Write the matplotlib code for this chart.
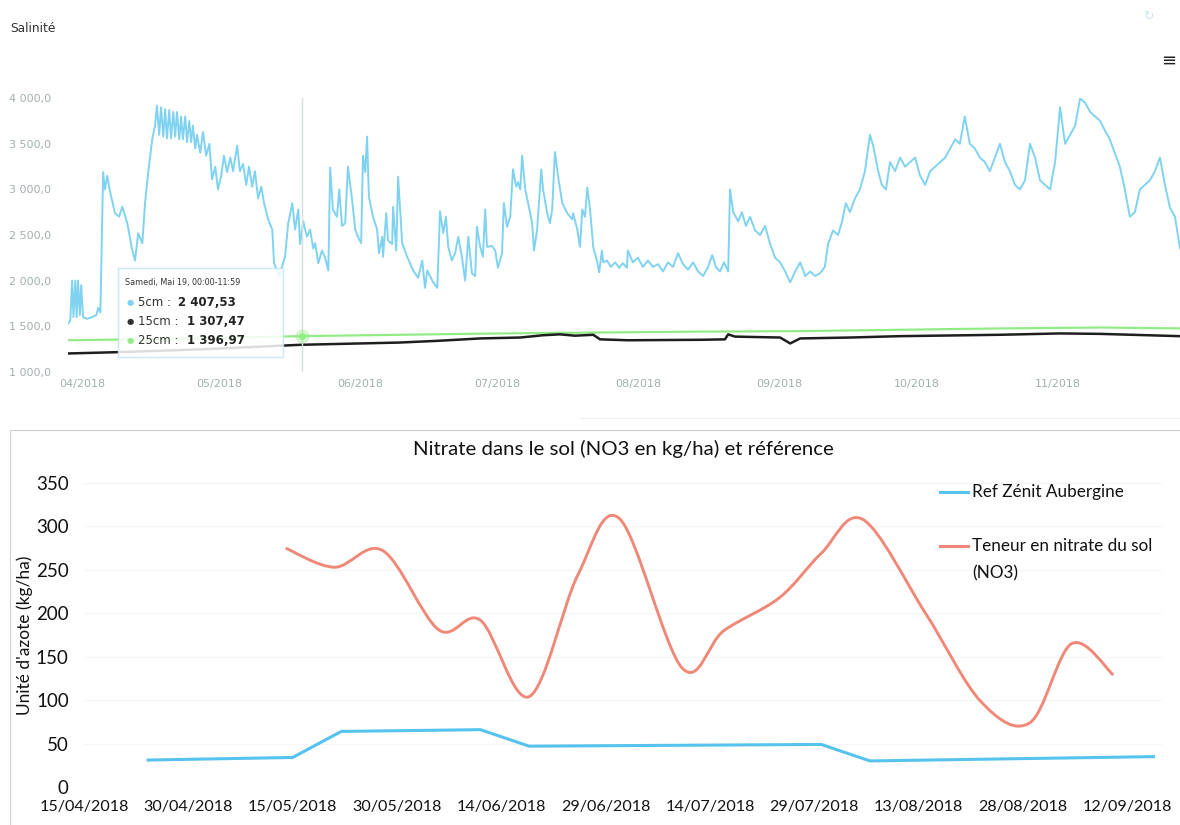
import matplotlib
matplotlib.use("Agg")
import matplotlib.pyplot as plt
import matplotlib.dates as mdates
from matplotlib.path import Path
from matplotlib.patches import PathPatch, FancyBboxPatch
from datetime import datetime, timedelta

# ---------------- Salinité (graphique du haut) ----------------
debut = datetime(2018, 4, 1)

jours_5cm = [-3.1, -2.6, -2.2, -1.9, -1.5, -1.2, -0.9, -0.5, -0.2, 0.2, 1.1, 2.2, 3.1, 3.5, 4.0, 4.6, 5.0, 5.5, 6.1, 7.2,
             8.1, 8.8, 9.9, 11.0, 11.6, 12.3, 13.2, 13.8, 14.5, 15.4, 16.0, 16.4, 16.9, 17.3, 17.8, 18.2, 18.6, 19.1, 19.5, 20.0,
             20.4, 20.8, 21.3, 21.7, 22.1, 22.6, 23.0, 23.5, 23.9, 24.3, 24.8, 25.2, 25.9, 26.5, 27.2, 27.9, 28.5, 29.2, 29.8, 30.5,
             31.1, 31.8, 32.5, 33.1, 34.0, 34.6, 35.3, 36.0, 36.6, 37.3, 37.9, 38.6, 39.3, 39.9, 40.8, 41.7, 42.1, 43.2, 44.5, 45.2,
             46.1, 46.7, 47.4, 47.8, 48.5, 49.3, 50.0, 50.7, 51.1, 51.8, 52.6, 53.3, 54.0, 54.4, 55.0, 55.9, 56.4, 57.0, 57.7, 58.3,
             59.2, 59.9, 60.5, 61.2, 61.6, 62.1, 62.5, 62.9, 63.8, 64.7, 65.1, 65.8, 66.0, 66.7, 67.1, 68.0, 68.2, 68.9, 69.3, 70.2,
             71.3, 71.9, 72.6, 73.7, 74.6, 75.2, 75.7, 76.3, 77.0, 77.9, 78.5, 79.2, 79.8, 80.3, 81.1, 81.8, 82.5, 83.3, 84.0, 84.7,
             85.5, 86.2, 86.6, 87.3, 87.9, 88.4, 88.8, 89.9, 90.6, 91.2, 92.1, 92.5, 93.2, 93.9, 94.5, 95.2, 95.6, 96.1, 96.5, 97.2,
             97.8, 98.7, 99.1, 99.8, 100.7, 101.1, 102.0, 102.6, 103.1, 103.7, 104.4, 105.3, 106.4, 107.5, 107.7, 108.6, 109.2, 109.7, 110.3, 110.8,
             111.4, 112.1, 112.9, 113.4, 114.0, 114.3, 115.1, 116.0, 116.9, 117.8, 118.6, 119.5, 119.7, 120.8, 121.9, 123.0, 124.1, 125.2, 126.3, 127.4,
             128.5, 129.6, 130.7, 131.8, 132.9, 134.0, 135.1, 136.2, 137.3, 138.2, 139.0, 139.9, 140.8, 141.7, 142.1, 142.8, 143.9, 144.7, 145.6, 146.5,
             147.6, 148.7, 149.8, 150.9, 152.0, 153.1, 154.2, 155.3, 156.4, 157.5, 158.6, 159.7, 160.8, 161.8, 162.9, 163.6, 164.7, 165.8, 166.7, 167.5,
             168.4, 169.5, 170.6, 171.7, 172.8, 173.5, 174.6, 175.4, 176.3, 177.2, 178.3, 179.4, 180.5, 181.6, 182.7, 183.8, 184.9, 186.0, 187.1, 188.2,
             189.3, 190.4, 191.5, 192.5, 193.6, 194.7, 195.8, 196.9, 198.0, 199.1, 200.2, 201.3, 202.4, 203.5, 204.6, 205.7, 206.8, 207.9, 209.0, 210.1,
             211.2, 212.3, 213.4, 214.5, 215.6, 216.7, 217.8, 218.9, 220.0, 221.1, 222.2, 223.3, 224.3, 225.4, 226.5, 227.6, 228.7, 229.8, 230.9, 232.0,
             233.1, 234.2, 235.3, 236.4, 237.5, 238.6, 239.7, 240.8]
sal_5cm = [1530, 1560, 2000, 1600, 2000, 1600, 2000, 1620, 1950, 1600, 1580, 1600, 1620, 1700, 1650, 3190, 3000, 3150, 2980, 2740,
           2700, 2810, 2630, 2330, 2220, 2520, 2410, 2850, 3190, 3560, 3700, 3920, 3600, 3900, 3580, 3880, 3560, 3870, 3560, 3850,
           3580, 3850, 3550, 3800, 3550, 3800, 3520, 3750, 3520, 3700, 3450, 3600, 3400, 3630, 3370, 3500, 3110, 3250, 3000, 3150,
           3370, 3190, 3350, 3200, 3480, 3200, 3280, 3050, 3250, 3030, 3200, 2900, 3030, 2850, 2670, 2560, 2190, 2050, 2260, 2630,
           2850, 2560, 2780, 2400, 2650, 2480, 2560, 2350, 2410, 2190, 2330, 2250, 2110, 3240, 2780, 2700, 3000, 2600, 2630, 3250,
           2890, 2560, 2480, 2410, 3370, 3190, 3580, 2920, 2700, 2560, 2300, 2480, 2260, 2740, 2440, 2400, 2810, 2330, 3140, 2410,
           2260, 2190, 2110, 2030, 2220, 1920, 2110, 2050, 1980, 1920, 2760, 2520, 2700, 2370, 2220, 2300, 2480, 2260, 2000, 2480,
           2080, 2050, 2590, 2370, 2260, 2780, 2370, 2380, 2330, 2140, 2300, 2850, 2590, 2700, 3220, 3030, 3080, 3000, 3370, 3000,
           2850, 2630, 2330, 2560, 3220, 3000, 2740, 2630, 2780, 3410, 3140, 2850, 2740, 2670, 2740, 2560, 2370, 2780, 2700, 3020,
           2780, 2370, 2220, 2090, 2330, 2200, 2220, 2150, 2200, 2140, 2190, 2140, 2330, 2200, 2250, 2150, 2220, 2150, 2180, 2100,
           2200, 2150, 2300, 2180, 2120, 2200, 2100, 2050, 2150, 2280, 2150, 2100, 2200, 2100, 3000, 2750, 2650, 2750, 2600, 2700,
           2550, 2500, 2600, 2400, 2250, 2200, 2100, 1980, 2100, 2200, 2050, 2100, 2050, 2080, 2150, 2400, 2550, 2500, 2650, 2850,
           2750, 2900, 3000, 3200, 3600, 3480, 3200, 3050, 3000, 3300, 3200, 3350, 3250, 3300, 3350, 3150, 3050, 3200, 3250, 3300,
           3350, 3450, 3550, 3500, 3800, 3500, 3450, 3350, 3300, 3200, 3350, 3500, 3300, 3200, 3050, 3000, 3100, 3500, 3350, 3100,
           3050, 3000, 3300, 3900, 3500, 3600, 3700, 4000, 3950, 3850, 3800, 3750, 3650, 3550, 3400, 3250, 3000, 2700, 2750, 3000,
           3050, 3100, 3200, 3350, 3050, 2800, 2700, 2350]

jours_15cm = [-3.1, 8.3, 25.9, 47.8, 69.7, 78.5, 87.3, 96.1, 101.1, 104.8, 108.1, 112.1, 113.6, 119.7, 135.5, 141.0, 141.7, 143.2,
              153.1, 155.3, 157.5, 168.4, 179.4, 201.3, 214.5, 223.3, 240.8]
sal_15cm = [1200, 1215, 1245, 1295, 1320, 1340, 1365, 1375, 1400, 1410, 1395, 1405, 1355, 1345, 1350, 1355, 1410, 1385,
            1375, 1310, 1365, 1375, 1390, 1405, 1420, 1415, 1390]

jours_25cm = [-3.1, 25.9, 47.8, 69.7, 91.7, 113.6, 135.5, 157.5, 179.4, 201.3, 223.3, 240.8]
sal_25cm = [1345, 1365, 1390, 1405, 1420, 1430, 1440, 1445, 1460, 1475, 1485, 1475]

mois = [datetime(2018, m, 1) for m in range(4, 12)]
mois_labels = ['04/2018', '05/2018', '06/2018', '07/2018', '08/2018', '09/2018', '10/2018', '11/2018']
sal_ticks = [1000, 1500, 2000, 2500, 3000, 3500, 4000]
sal_tick_labels = ['1 000,0', '1 500,0', '2 000,0', '2 500,0', '3 000,0', '3 500,0', '4 000,0']

survol_date = datetime(2018, 5, 19, 6)
survol_titre = 'Samedi, Mai 19, 00:00-11:59'
survol_series = ['5cm', '15cm', '25cm']
survol_valeurs = ['2 407,53', '1 307,47', '1 396,97']

# ---------------- Nitrate (graphique du bas) ----------------
ref_dates = ['2018-04-24', '2018-05-15', '2018-05-22', '2018-06-11', '2018-06-18', '2018-07-30', '2018-08-06', '2018-09-16']
ref_vals = [31, 34, 64, 66, 47, 49, 30, 35]

no3_dates = ['2018-05-14', '2018-05-21', '2018-05-28', '2018-06-05', '2018-06-11', '2018-06-18', '2018-06-25', '2018-07-01',
             '2018-07-10', '2018-07-16', '2018-07-24', '2018-07-30', '2018-08-05', '2018-08-14', '2018-08-22', '2018-08-29',
             '2018-09-04', '2018-09-10']
no3_vals = [275, 253, 272, 181, 192, 104, 244, 309, 137, 180, 218, 269, 308, 200, 98, 74, 165, 129]

legende = [['Ref Zénit Aubergine'], ['Teneur en nitrate du sol', '(NO3)']]

W, H = 1180, 825
fig = plt.figure(figsize=(W / 100, H / 100), dpi=100)

c_5 = '#80d3f0'
c_15 = '#1e1e1e'
c_25 = '#92ec86'
c_ref = '#55c3ee'
c_no3 = '#f08878'

# ---- haut
ax1 = fig.add_axes([68 / W, 1 - 371.7 / H, 1 - 68 / W, (371.7 - 98.3) / H])
t5 = [debut + timedelta(days=d) for d in jours_5cm]
t15 = [debut + timedelta(days=d) for d in jours_15cm]
t25 = [debut + timedelta(days=d) for d in jours_25cm]
ax1.plot(t25, sal_25cm, color=c_25, lw=1.6)
ax1.plot(t15, sal_15cm, color=c_15, lw=1.8)
ax1.plot(t5, sal_5cm, color=c_5, lw=1.4)
ax1.axvline(survol_date, color='#d8dde0', lw=1)
ax1.plot([survol_date], [1390], 'o', color=c_25, ms=9, alpha=0.35)
ax1.plot([survol_date], [1390], 'o', color=c_25, ms=4)
ax1.set_xlim(debut + timedelta(days=-3.1), debut + timedelta(days=240.8))
ax1.set_ylim(1000, 4000)
ax1.set_xticks(mois)
ax1.set_xticklabels(mois_labels)
ax1.set_yticks(sal_ticks)
ax1.set_yticklabels(sal_tick_labels)
ax1.tick_params(axis='both', length=0, labelsize=8, labelcolor='#a3aeae')
ax1.tick_params(axis='y', pad=12)
ax1.tick_params(axis='x', pad=5)
for s in ax1.spines.values():
    s.set_visible(False)

fig.text(10 / W, 1 - 29 / H, 'Salinité', fontsize=8.8, color='#333333', va='center')
fig.text(1 - 4 / W, 1 - 61 / H, '≡', fontsize=13, color='#222222', ha='right', va='center')
fig.text(1148 / W, 1 - 16 / H, '↻', fontsize=9, color='#cfe6ee', ha='center', va='center')

# infobulle
bx0, by0, bx1, by1 = 118, 268, 283, 357
boite = FancyBboxPatch((bx0 / W, 1 - by1 / H), (bx1 - bx0) / W, (by1 - by0) / H,
                       boxstyle='square,pad=0', transform=fig.transFigure,
                       facecolor='white', edgecolor='#bfe6f3', lw=1.0, alpha=0.85)
fig.add_artist(boite)
fig.text(125 / W, 1 - 283 / H, survol_titre, fontsize=5.8, color='#333333', va='center')
for i, (nom, val, col) in enumerate(zip(survol_series, survol_valeurs, [c_5, '#333333', c_25])):
    yy = 1 - (302 + i * 19.5) / H
    fig.text(130 / W, yy, '●', fontsize=6, color=col, va='center', ha='center')
    fig.text(138 / W, yy, nom + ' :', fontsize=8.5, color='#333333', va='center')
    fig.text((178 + 9 * (len(nom) - 3)) / W, yy, val, fontsize=8.5, color='#222222',
             va='center', fontweight='bold')

# séparation / cadre du graphique du bas
fig.add_artist(plt.Line2D([580 / W, 1], [1 - 418 / H, 1 - 418 / H], color='#f0f0f0', lw=0.8,
                          transform=fig.transFigure))
fig.add_artist(plt.Line2D([10 / W, 10 / W, 1], [0, 1 - 430 / H, 1 - 430 / H], color='#cfcfcf', lw=0.8,
                          transform=fig.transFigure))

# ---- bas
police = 'Lato'
ax2 = fig.add_axes([84 / W, 1 - 787 / H, (1162 - 84) / W, (787 - 483) / H])
rd = [datetime.strptime(d, '%Y-%m-%d') for d in ref_dates]
ax2.plot(rd, ref_vals, color=c_ref, lw=2.2, solid_capstyle='butt')

# courbe lissée (comme Excel) pour la teneur en nitrate
nx = [mdates.date2num(datetime.strptime(d, '%Y-%m-%d')) for d in no3_dates]
pts = list(zip(nx, no3_vals))
verts = [pts[0]]
codes = [Path.MOVETO]
for i in range(len(pts) - 1):
    p0 = pts[max(i - 1, 0)]
    p1 = pts[i]
    p2 = pts[i + 1]
    p3 = pts[min(i + 2, len(pts) - 1)]
    c1 = (p1[0] + (p2[0] - p0[0]) / 6, p1[1] + (p2[1] - p0[1]) / 6)
    c2 = (p2[0] - (p3[0] - p1[0]) / 6, p2[1] - (p3[1] - p1[1]) / 6)
    verts += [c1, c2, p2]
    codes += [Path.CURVE4] * 3
ax2.add_patch(PathPatch(Path(verts, codes), facecolor='none', edgecolor=c_no3, lw=2.1))

x0 = datetime(2018, 4, 15)
ax2.set_xlim(x0, datetime(2018, 9, 17))
ax2.set_ylim(0, 350)
ax2.set_yticks(range(0, 351, 50))
ax2.set_xticks([x0 + timedelta(days=15 * k) for k in range(11)])
ax2.xaxis.set_major_formatter(mdates.DateFormatter('%d/%m/%Y'))
ax2.grid(axis='y', color='#f5f5f5', lw=0.8)
ax2.set_axisbelow(True)
for s in ax2.spines.values():
    s.set_visible(False)
ax2.tick_params(axis='both', length=0)
ax2.tick_params(axis='y', labelsize=13.5, pad=11)
ax2.tick_params(axis='x', labelsize=11.6, pad=9)
for lab in ax2.get_xticklabels() + ax2.get_yticklabels():
    lab.set_fontfamily(police)
    lab.set_color('#111111')
ax2.set_ylabel("Unité d'azote (kg/ha)", fontsize=12.5, fontfamily=police, color='#111111', labelpad=2)
ax2.set_title('Nitrate dans le sol (NO3 en kg/ha) et référence', fontsize=14.7, fontfamily=police,
              color='#111111', pad=20)

# légende
for k, (lignes, col) in enumerate(zip(legende, [c_ref, c_no3])):
    yy = 492 + 54 * k
    fig.add_artist(plt.Line2D([940 / W, 968 / W], [1 - yy / H, 1 - yy / H], color=col, lw=2.2,
                              transform=fig.transFigure))
    for j, ligne in enumerate(lignes):
        fig.text(972 / W, 1 - (yy + 27 * j) / H, ligne, fontsize=12.3, fontfamily=police,
                 color='#111111', va='center')

fig.savefig('out.png', dpi=100, facecolor='white')
